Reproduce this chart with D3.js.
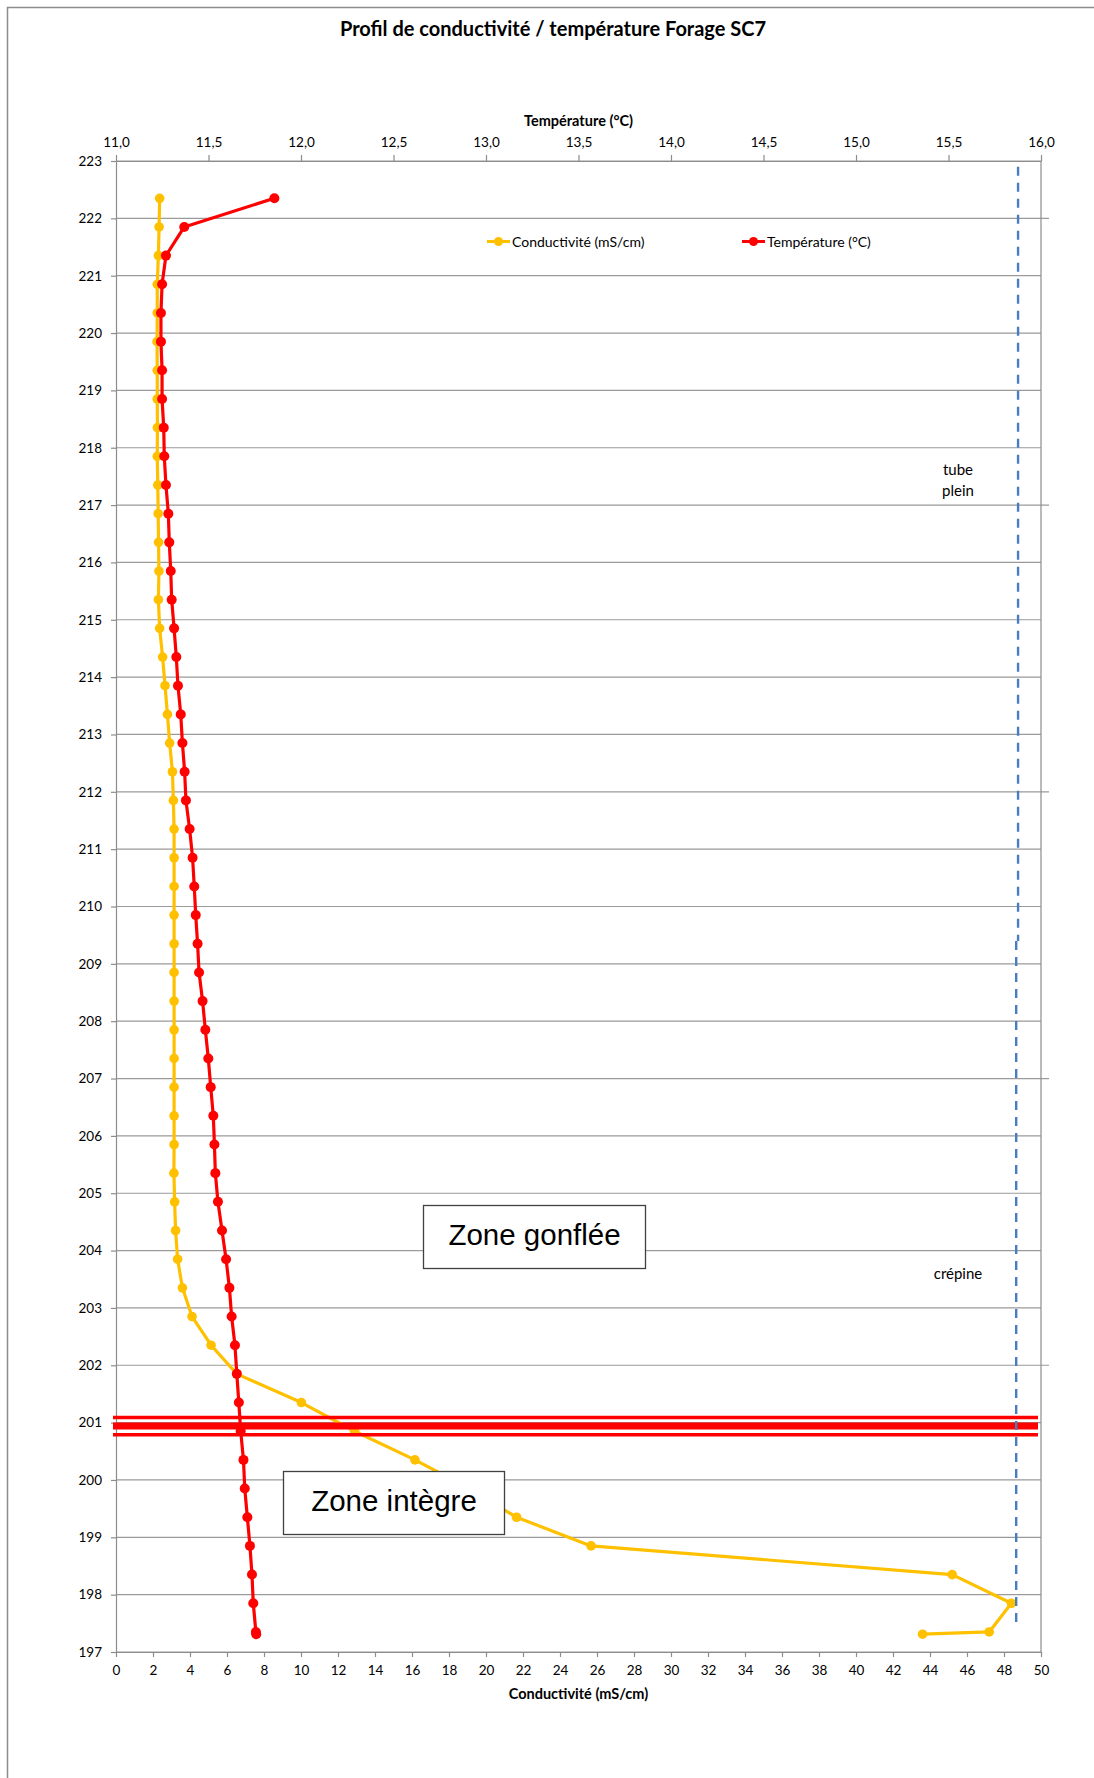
<!DOCTYPE html>
<html>
<head>
<meta charset="utf-8">
<script src="https://cdn.jsdelivr.net/npm/d3@7"></script>
<style>
  body { margin: 0; background: #fff; }
  svg { display: block; font-family: Lato, "Open Sans", sans-serif; }
</style>
</head>
<body>
<div id="chart"></div>
<script>
// depth (m NGF) of each measurement
const depths = [222.35, 221.85, 221.35, 220.85, 220.35, 219.85, 219.35, 218.85, 218.35, 217.85,
  217.35, 216.85, 216.35, 215.85, 215.35, 214.85, 214.35, 213.85, 213.35, 212.85,
  212.35, 211.85, 211.35, 210.85, 210.35, 209.85, 209.35, 208.85, 208.35, 207.85,
  207.35, 206.85, 206.35, 205.85, 205.35, 204.85, 204.35, 203.85, 203.35, 202.85,
  202.35, 201.85, 201.35, 200.85, 200.35, 199.85, 199.35, 198.85, 198.35, 197.85,
  197.35, 197.31];

// conductivity (mS/cm)
const conductivity = [2.36, 2.33, 2.29, 2.23, 2.23, 2.22, 2.23, 2.23, 2.24, 2.23,
  2.26, 2.28, 2.30, 2.32, 2.29, 2.36, 2.52, 2.65, 2.78, 2.90,
  3.05, 3.10, 3.14, 3.14, 3.14, 3.14, 3.14, 3.14, 3.14, 3.14,
  3.14, 3.14, 3.14, 3.14, 3.13, 3.17, 3.22, 3.33, 3.59, 4.11,
  5.14, 6.53, 10.02, 12.9, 16.16, 19.1, 21.65, 25.68, 45.2, 48.4,
  47.2, 43.6];

// temperature (°C)
const temperature = [11.856, 11.369, 11.270, 11.249, 11.243, 11.243, 11.249, 11.249, 11.258, 11.261,
  11.270, 11.283, 11.288, 11.296, 11.301, 11.314, 11.326, 11.335, 11.350, 11.359,
  11.371, 11.378, 11.398, 11.414, 11.423, 11.431, 11.441, 11.449, 11.468, 11.483,
  11.499, 11.512, 11.526, 11.532, 11.537, 11.551, 11.573, 11.595, 11.613, 11.625,
  11.643, 11.653, 11.664, 11.674, 11.689, 11.696, 11.710, 11.724, 11.735, 11.742,
  11.756, 11.758];

const depthTicks = [197, 198, 199, 200, 201, 202, 203, 204, 205, 206, 207, 208, 209, 210,
  211, 212, 213, 214, 215, 216, 217, 218, 219, 220, 221, 222, 223];
const condTicks = [0, 2, 4, 6, 8, 10, 12, 14, 16, 18, 20, 22, 24, 26, 28, 30, 32, 34, 36,
  38, 40, 42, 44, 46, 48, 50];
const tempTicks = [11.0, 11.5, 12.0, 12.5, 13.0, 13.5, 14.0, 14.5, 15.0, 15.5, 16.0];

// red bands marking the limit between the two zones
const bandDepths = [201.09, 200.94, 200.79];
const bandWidths = [3.5, 7, 3.5];

// dashed casing line, two pieces (conductivity units / depth)
const casingUpper = [[48.76, 222.9], [48.76, 209.4]];
const casingLower = [[48.66, 209.4], [48.66, 197.45]];

const W = 1094, H = 1778;
const plotLeft = 116, plotRight = 1041, plotTop = 161, plotBottom = 1652;

const svg = d3.select("#chart").append("svg")
  .attr("width", W)
  .attr("height", H);

svg.append("rect").attr("width", W).attr("height", H).attr("fill", "#fff");

// outer chart border (only left and top are visible)
svg.append("path")
  .attr("d", `M7.5,${H} V7.5 H${W}`)
  .attr("fill", "none")
  .attr("stroke", "#8c8c8c")
  .attr("stroke-width", 1.5);

const y = d3.scaleLinear().domain([197, 223]).range([plotBottom, plotTop]);
const xC = d3.scaleLinear().domain([0, 50]).range([plotLeft, plotRight]);
const xT = d3.scaleLinear().domain([11, 16]).range([plotLeft, plotRight]);

// title
svg.append("text")
  .attr("x", 553).attr("y", 36)
  .attr("text-anchor", "middle")
  .attr("font-weight", "bold")
  .attr("font-size", 20)
  .attr("fill", "#000")
  .text("Profil de conductivité / température Forage SC7");

// horizontal gridlines
svg.append("g").selectAll("line")
  .data(depthTicks)
  .join("line")
  .attr("x1", plotLeft)
  .attr("x2", d => (d - 197) % 5 === 0 && d !== 197 ? plotRight + 8 : plotRight)
  .attr("y1", d => y(d))
  .attr("y2", d => y(d))
  .attr("stroke", "#9a9a9a")
  .attr("stroke-width", 1.2);

// right border of plot
svg.append("line")
  .attr("x1", plotRight).attr("x2", plotRight)
  .attr("y1", plotTop).attr("y2", plotBottom)
  .attr("stroke", "#8c8c8c").attr("stroke-width", 1.2);

function styleAxis(g) {
  g.select(".domain").attr("stroke", "#8c8c8c").attr("stroke-width", 1.2);
  g.selectAll(".tick line").attr("stroke", "#8c8c8c").attr("stroke-width", 1.2);
  g.selectAll(".tick text").attr("fill", "#000").attr("font-size", 13.5)
    .attr("font-family", "Lato, sans-serif");
}

svg.append("g")
  .attr("transform", `translate(${plotLeft},0)`)
  .call(d3.axisLeft(y).tickValues(depthTicks).tickFormat(d3.format("d")).tickSize(5).tickSizeOuter(0).tickPadding(9))
  .call(styleAxis);

svg.append("g")
  .attr("transform", `translate(0,${plotBottom})`)
  .call(d3.axisBottom(xC).tickValues(condTicks).tickFormat(d3.format("d")).tickSize(5).tickSizeOuter(0).tickPadding(8))
  .call(styleAxis);

svg.append("g")
  .attr("transform", `translate(0,${plotTop})`)
  .call(d3.axisTop(xT).tickValues(tempTicks).tickFormat(d => d.toFixed(1).replace(".", ",")).tickSize(6).tickSizeOuter(0).tickPadding(8))
  .call(styleAxis);

// axis titles
svg.append("text")
  .attr("x", (plotLeft + plotRight) / 2).attr("y", 126)
  .attr("text-anchor", "middle").attr("font-weight", "bold").attr("font-size", 14.5)
  .text("Température (°C)");

svg.append("text")
  .attr("x", (plotLeft + plotRight) / 2).attr("y", 1699)
  .attr("text-anchor", "middle").attr("font-weight", "bold").attr("font-size", 14.5)
  .text("Conductivité (mS/cm)");

// conductivity series
const condData = depths.map((d, i) => ({ d: d, v: conductivity[i] }));
const tempData = depths.map((d, i) => ({ d: d, v: temperature[i] }));

svg.append("path")
  .datum(condData)
  .attr("fill", "none")
  .attr("stroke", "#FFC000")
  .attr("stroke-width", 3.2)
  .attr("stroke-linejoin", "round")
  .attr("d", d3.line().x(p => xC(p.v)).y(p => y(p.d)));

svg.append("g").selectAll("circle")
  .data(condData)
  .join("circle")
  .attr("cx", p => xC(p.v))
  .attr("cy", p => y(p.d))
  .attr("r", 4.8)
  .attr("fill", "#FFC000");

// red bands
svg.append("g").selectAll("line")
  .data(bandDepths)
  .join("line")
  .attr("x1", 113).attr("x2", 1038)
  .attr("y1", d => y(d)).attr("y2", d => y(d))
  .attr("stroke", "#FF0000")
  .attr("stroke-width", (d, i) => bandWidths[i]);

// zone boxes
function zoneBox(x0, y0, w, h, label) {
  svg.append("rect")
    .attr("x", x0).attr("y", y0).attr("width", w).attr("height", h)
    .attr("fill", "#fff").attr("stroke", "#404040").attr("stroke-width", 1.3);
  svg.append("text")
    .attr("x", x0 + w / 2).attr("y", y0 + h / 2 + 8)
    .attr("text-anchor", "middle")
    .attr("font-family", "'Liberation Sans', Arial, sans-serif")
    .attr("font-size", 29.5)
    .attr("fill", "#000")
    .text(label);
}
zoneBox(423.5, 1205.5, 222, 63, "Zone gonflée");
zoneBox(283.5, 1471.5, 221, 63, "Zone intègre");

// temperature series
svg.append("path")
  .datum(tempData)
  .attr("fill", "none")
  .attr("stroke", "#FF0000")
  .attr("stroke-width", 3.2)
  .attr("stroke-linejoin", "round")
  .attr("d", d3.line().x(p => xT(p.v)).y(p => y(p.d)));

svg.append("g").selectAll("circle")
  .data(tempData)
  .join("circle")
  .attr("cx", p => xT(p.v))
  .attr("cy", p => y(p.d))
  .attr("r", 5)
  .attr("fill", "#FF0000");

// dashed casing line
svg.append("g").selectAll("path")
  .data([casingUpper, casingLower])
  .join("path")
  .attr("fill", "none")
  .attr("stroke", "#4A7EBB")
  .attr("stroke-width", 2.4)
  .attr("stroke-dasharray", "9,7")
  .attr("d", d3.line().x(p => xC(p[0])).y(p => y(p[1])));

// annotations
svg.append("text").attr("x", 958).attr("y", 475).attr("text-anchor", "middle").attr("font-size", 15).text("tube");
svg.append("text").attr("x", 958).attr("y", 496).attr("text-anchor", "middle").attr("font-size", 15).text("plein");
svg.append("text").attr("x", 958).attr("y", 1279).attr("text-anchor", "middle").attr("font-size", 15).text("crépine");

// legend
const legend = [
  { label: "Conductivité (mS/cm)", color: "#FFC000", x: 487 },
  { label: "Température (°C)", color: "#FF0000", x: 742 }
];
const lg = svg.append("g").selectAll("g").data(legend).join("g")
  .attr("transform", d => `translate(${d.x},241.5)`);
lg.append("line").attr("x1", 0).attr("x2", 23).attr("stroke", d => d.color).attr("stroke-width", 3);
lg.append("circle").attr("cx", 11.5).attr("r", 4.5).attr("fill", d => d.color);
lg.append("text").attr("x", 25).attr("y", 5).attr("font-size", 14).text(d => d.label);
</script>
</body>
</html>
